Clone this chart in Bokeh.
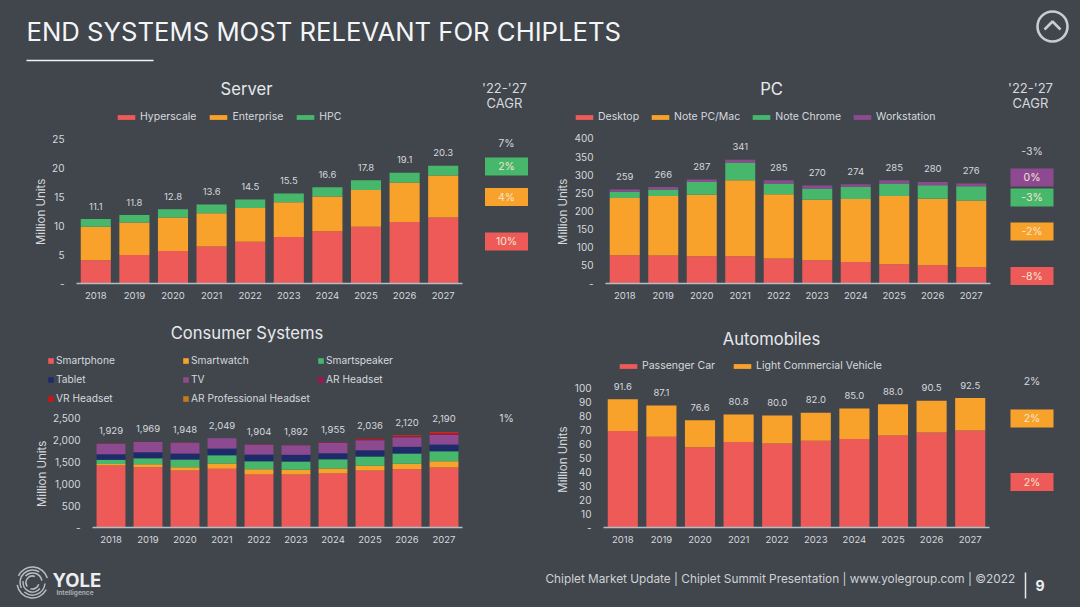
from bokeh.plotting import figure
from bokeh.layouts import column, row
from bokeh.models import (ColumnDataSource, FactorRange, Range1d, FixedTicker, Legend, LegendItem,
                          LabelSet)
from bokeh.embed import file_html
from bokeh.resources import INLINE
from bokeh.core.properties import value

# ---------- data ----------
years = ["2018", "2019", "2020", "2021", "2022", "2023", "2024", "2025", "2026", "2027"]

server_hyperscale = [4.0, 4.9, 5.6, 6.4, 7.2, 8.0, 9.0, 9.8, 10.6, 11.4]
server_enterprise = [5.8, 5.6, 5.8, 5.7, 5.8, 6.0, 6.0, 6.3, 6.8, 7.2]
server_hpc = [1.3, 1.3, 1.4, 1.5, 1.5, 1.5, 1.6, 1.7, 1.7, 1.7]
server_totals = ["11.1", "11.8", "12.8", "13.6", "14.5", "15.5", "16.6", "17.8", "19.1", "20.3"]

pc_desktop = [78, 77, 75, 75, 69, 64, 59, 53, 50, 45]
pc_note = [158, 164, 170, 210, 177, 167, 174, 188, 184, 184]
pc_chrome = [17, 18, 35, 49, 30, 31, 34, 35, 37, 39]
pc_workstation = [6, 7, 7, 7, 9, 8, 7, 9, 9, 8]
pc_totals = ["259", "266", "287", "341", "285", "270", "274", "285", "280", "276"]

cs_smartphone = [1420, 1384, 1305, 1350, 1216, 1216, 1239, 1307, 1338, 1376]
cs_smartwatch = [35, 68, 79, 118, 122, 107, 114, 107, 122, 145]
cs_smartspeaker = [97, 138, 176, 191, 183, 191, 214, 214, 237, 230]
cs_tablet = [130, 138, 137, 153, 153, 153, 138, 146, 153, 153]
cs_tv = [240, 235, 245, 232, 225, 220, 240, 229, 222, 221]
cs_ar = [1, 1, 1, 1, 1, 1, 2, 9, 13, 18]
cs_vr = [6, 5, 5, 4, 4, 4, 7, 22, 32, 42]
cs_arpro = [0, 0, 0, 0, 0, 0, 1, 2, 3, 5]
cs_totals = ["1,929", "1,969", "1,948", "2,049", "1,904", "1,892", "1,955", "2,036", "2,120", "2,190"]

auto_passenger = [69.0, 64.8, 57.4, 61.0, 60.0, 62.0, 63.3, 65.7, 67.9, 69.3]
auto_lcv = [22.6, 22.3, 19.2, 19.8, 20.0, 20.0, 21.7, 22.3, 22.6, 23.2]
auto_totals = ["91.6", "87.1", "76.6", "80.8", "80.0", "82.0", "85.0", "88.0", "90.5", "92.5"]

server_cagr = ["2%", "4%", "10%"]
pc_cagr = ["0%", "-3%", "-2%", "-8%"]
auto_cagr = ["2%", "2%"]

# ---------- style ----------
FONT = "Inter"
BG = "#41464d"
TXT = "#d5d9dd"
RED, ORANGE, GREEN = "#ee5a58", "#f8a22c", "#47b76b"
PURPLE, NAVY, CRIMSON, VRRED, BROWN = "#8e4a91", "#1d2b6b", "#a0144f", "#c4161c", "#c67a16"
NB3 = "\u00a0\u00a0\u00a0"  # trailing no-break spaces keep the axis title centred on the ticks


def base(width, height, x_range, y_range, left=0, right=0, top=0, bottom=0):
    p = figure(width=width, height=height, x_range=x_range, y_range=y_range, output_backend="svg",
               toolbar_location=None, min_border_left=left, min_border_right=right,
               min_border_top=top, min_border_bottom=bottom, frame_align=False,
               background_fill_color=BG, border_fill_color=BG, outline_line_color=None)
    p.grid.visible = False
    return p


def chart(names, series, colors, totals, ymax, tick_max, step, overrides,
          width, height, left, right, top, bottom, label_standoff, axis_label="Million Units"):
    data = {"year": years}
    data.update(dict(zip(names, series)))
    tops = [sum(v) for v in zip(*series)]
    data["top"], data["total"] = tops, totals
    src = ColumnDataSource(data)
    p = base(width, height, FactorRange(factors=years), Range1d(0, ymax), left, right, top, bottom)
    p.vbar_stack(names, x="year", width=0.78, source=src, color=colors, line_width=0)
    p.add_layout(LabelSet(x="year", y="top", text="total", source=src, y_offset=13, text_align="center",
                          text_baseline="middle", text_font=value(FONT), text_font_size="9.5px",
                          text_color=TXT))
    xa, ya = p.xaxis[0], p.yaxis[0]
    for a in (xa, ya):
        a.major_tick_line_color = None
        a.minor_tick_line_color = None
        a.major_tick_out = 0
        a.major_tick_in = 0
        a.minor_tick_out = 0
        a.minor_tick_in = 0
        a.major_label_text_font = FONT
        a.major_label_text_color = TXT
    xa.axis_line_color = "#b4bcc6"
    xa.axis_line_width = 1.5
    xa.major_label_standoff = 8
    xa.major_label_text_font_size = "9.5px"
    ya.ticker = FixedTicker(ticks=list(range(0, tick_max + 1, step)))
    ya.major_label_overrides = overrides
    ya.axis_line_color = None
    ya.major_label_standoff = 12
    ya.major_label_text_font_size = "10px"
    ya.axis_label = axis_label
    ya.axis_label_standoff = label_standoff
    ya.axis_label_text_font = FONT
    ya.axis_label_text_font_size = "11.5px"
    ya.axis_label_text_font_style = "normal"
    ya.axis_label_text_color = TXT
    return p


def strip(width, y0, y1, x0, title, title_x, title_y, labels, colors, loc, ncols=None, gw=22, gh=6, spacing=10,
          standoff=3, label_width=20, header_x=None, header_y=None, font_size="10.5px"):
    p = base(width, y1 - y0, Range1d(x0, x0 + width), Range1d(y1, y0))
    p.axis.visible = False
    p.text(x=[title_x], y=[title_y], text=[title], text_align="center", text_baseline="middle",
           text_font=value(FONT), text_font_size="16.6px", text_color="#e6e9ec")
    if header_y:
        p.text(x=[header_x, header_x], y=header_y, text=["'22-'27", "CAGR"], text_align="center",
               text_baseline="middle", text_font=value(FONT), text_font_size="13px", text_color=TXT)
    # zero-size bars that only carry the legend swatch colours
    rs = [p.vbar(x=[x0], top=[y1], bottom=[y1], width=0, color=c, line_width=0) for c in colors]
    lg = Legend(items=[LegendItem(label=l, renderers=[r]) for l, r in zip(labels, rs)],
                location=loc, orientation="horizontal", glyph_width=gw, glyph_height=gh,
                spacing=spacing, label_standoff=standoff, margin=0, padding=0, label_width=label_width,
                background_fill_alpha=0, border_line_alpha=0, label_text_font=FONT,
                label_text_font_size=font_size, label_text_color=TXT, label_height=12)
    if ncols:
        lg.ncols = ncols
    p.add_layout(lg, "center")
    return p


def cagr(width, height, y0, y1, cx, top_text, top_y, labels, box_y, colors):
    p = base(width, height, Range1d(0, width), Range1d(y1, y0))
    p.axis.visible = False
    if labels:
        p.rect(x=[cx] * len(labels), y=box_y, width=43, height=18, fill_color=colors, line_width=0)
        p.text(x=[cx] * len(labels), y=box_y, text=labels, text_align="center", text_baseline="middle",
               text_font=value(FONT), text_font_size="10.5px", text_color="#f3e6d2")
    p.text(x=[cx], y=[top_y], text=[top_text], text_align="center", text_baseline="middle",
           text_font=value(FONT), text_font_size="10.5px", text_color=TXT)
    return p


# ---------- header ----------
head = base(1080, 68, Range1d(0, 1080), Range1d(68, 0))
head.axis.visible = False
head.text(x=[26], y=[31], text=["END SYSTEMS MOST RELEVANT FOR CHIPLETS"], text_baseline="middle",
          text_font=value(FONT), text_font_size="25.7px", text_color="#f4f5f6")
head.line(x=[26, 153], y=[60, 60], line_color="#f0f1f2", line_width=1.6)
head.scatter(x=[1052], y=[26], size=30, marker="circle", fill_alpha=0, line_color="#c9cdd1", line_width=2.6)
head.line(x=[1044, 1052, 1060], y=[29, 21, 29], line_color="#c9cdd1", line_width=2.6)

# ---------- server ----------
server_labels = ["Hyperscale", "Enterprise", "HPC"]
server_s = strip(540, 68, 130, 0, "Server", 246, 88, server_labels, [RED, ORANGE, GREEN], (115, 7), spacing=11,
                 header_x=504, header_y=[87, 102])
server = chart(server_labels, [server_hyperscale, server_enterprise, server_hpc], [RED, ORANGE, GREEN],
               server_totals, 26.38, 25, 5, {0: "-"}, 470, 188, 76, 8, 0, 35, 1, axis_label="Million Units" + NB3)
server_c = cagr(70, 188, 130, 318, 36, "7%", 143, server_cagr, [166, 196.5, 241], [GREEN, ORANGE, RED])

# ---------- PC ----------
pc_labels = ["Desktop", "Note PC/Mac", "Note Chrome", "Workstation"]
pc_s = strip(540, 68, 130, 540, "PC", 771, 88, pc_labels, [RED, ORANGE, GREEN, PURPLE], (33, 7),
             header_x=1030, header_y=[87, 102])
pc = chart(pc_labels, [pc_desktop, pc_note, pc_chrome, pc_workstation], [RED, ORANGE, GREEN, PURPLE], pc_totals,
           422, 400, 50, {0: "-"}, 460, 188, 65, 10, 0, 35, 1, axis_label="Million Units" + NB3)
pc_c = cagr(80, 188, 130, 318, 31.5, "-3%", 151, pc_cagr, [177, 197, 231, 275.5], [PURPLE, GREEN, ORANGE, RED])

# ---------- consumer ----------
cs_labels = ["Smartphone", "Smartwatch", "Smartspeaker", "Tablet", "TV", "AR Headset", "VR Headset",
             "AR Professional Headset"]
cs_colors = [RED, ORANGE, GREEN, NAVY, PURPLE, CRIMSON, VRRED, BROWN]
cs_s = strip(540, 318, 410, 0, "Consumer Systems", 246.5, 332, cs_labels, cs_colors, (47, 6), ncols=3, gw=7, gh=7,
             spacing=7, standoff=2, label_width=119, font_size="10.2px")
cs = chart(cs_labels, [cs_smartphone, cs_smartwatch, cs_smartspeaker, cs_tablet, cs_tv, cs_ar, cs_vr, cs_arpro],
           cs_colors, cs_totals, 2683, 2500, 500,
           {0: "-", 500: "500", 1000: "1,000", 1500: "1,500", 2000: "2,000", 2500: "2,500"},
           470, 142, 92, 8, 0, 25, 1, axis_label="Million Units" + NB3)
cs_c = cagr(70, 142, 410, 552, 36, "1%", 418, [], [], [])

# ---------- automobiles ----------
auto_labels = ["Passenger Car", "Light Commercial Vehicle"]
auto_s = strip(540, 318, 375, 540, "Automobiles", 771, 338, auto_labels, [RED, ORANGE], (77, 3), spacing=16)
auto = chart(auto_labels, [auto_passenger, auto_lcv], [RED, ORANGE], auto_totals,
             108.6, 100, 10, {0: "-"}, 460, 177, 63, 11, 0, 25, 2, axis_label="Million Units" + NB3 + "\u00a0\u00a0")
auto_c = cagr(80, 177, 375, 552, 31.5, "2%", 381, auto_cagr, [418, 481.5], [ORANGE, RED])

# ---------- footer ----------
foot = base(1080, 55, Range1d(0, 1080), Range1d(607, 552))
foot.axis.visible = False
for r, a, b in ((15.5, 0.3, 2.7), (15.5, 3.3, 5.8), (12.5, 1.0, 3.6), (12.5, 4.0, 6.2), (9.5, 0.2, 2.4),
                (9.5, 3.0, 5.6), (6.5, 1.2, 3.8), (6.5, 4.4, 6.0)):
    foot.arc(x=[32], y=[582], radius=r, start_angle=a, end_angle=b, line_color="#b9bdc1", line_width=1.5)
foot.text(x=[52], y=[579], text=["YOLE"], text_baseline="middle", text_font=value(FONT), text_font_style="bold",
          text_font_size="18.5px", text_color="#eceef0")
foot.text(x=[56], y=[592], text=["Intelligence"], text_baseline="middle", text_font=value(FONT),
          text_font_style="bold", text_font_size="6.5px", text_color="#a9adb2")
foot.text(x=[545], y=[578], text=["Chiplet Market Update | Chiplet Summit Presentation | www.yolegroup.com | ©2022"],
          text_baseline="middle", text_font=value(FONT), text_font_size="11.8px", text_color="#ced2d6")
foot.line(x=[1025, 1025], y=[572, 598], line_color="#e4e6e8", line_width=1.5)
foot.text(x=[1035], y=[585], text=["9"], text_baseline="middle", text_font=value(FONT), text_font_style="bold",
          text_font_size="14px", text_color="#eceef0")

left1 = column(server_s, row(server, server_c, spacing=0), spacing=0)
right1 = column(pc_s, row(pc, pc_c, spacing=0), spacing=0)
left2 = column(cs_s, row(cs, cs_c, spacing=0), spacing=0)
right2 = column(auto_s, row(auto, auto_c, spacing=0), spacing=0)
page = column(head, row(left1, right1, spacing=0), row(left2, right2, spacing=0), foot, spacing=0)
# the figures sit edge to edge: a dark page behind them keeps the seams between them from showing white
html = file_html(page, INLINE).replace("</head>", f"<style>html,body{{background:{BG}}}</style></head>", 1)
open("out.html", "w").write(html)
